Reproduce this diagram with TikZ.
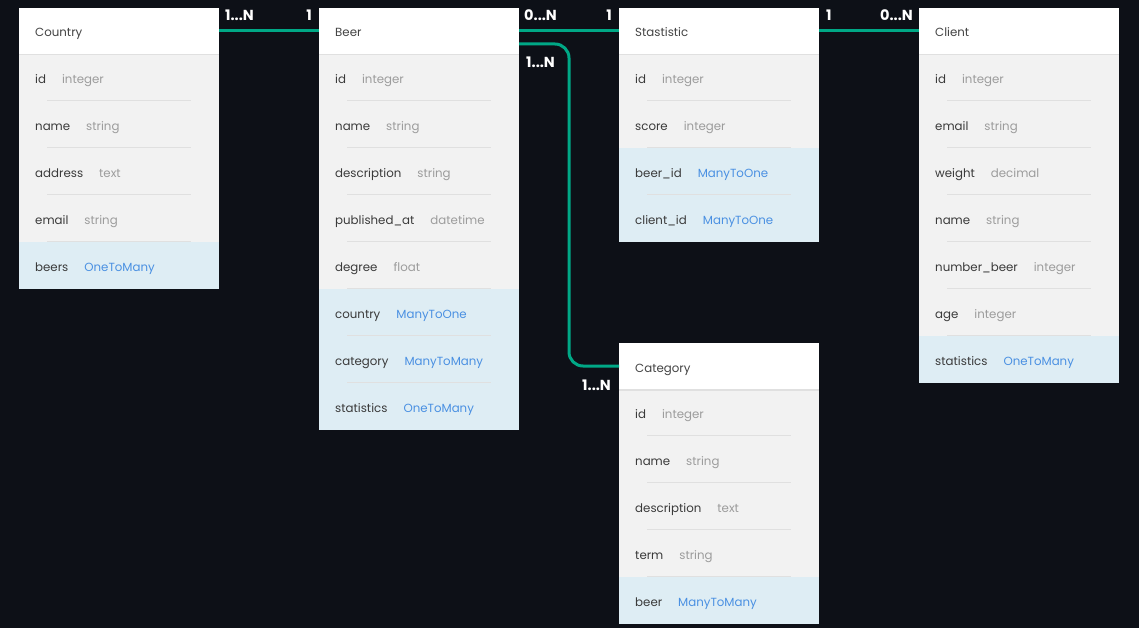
\documentclass[tikz,border=0pt]{standalone}
\usepackage{fontspec}
\setmainfont{Poppins}
\usetikzlibrary{calc}
\definecolor{bgcol}{HTML}{0D1017}
\definecolor{rowbg}{HTML}{F2F2F2}
\definecolor{hlbg}{HTML}{DEEDF4}
\definecolor{relcol}{HTML}{00A886}
\definecolor{fieldcol}{HTML}{3A3A3A}
\definecolor{hdrcol}{HTML}{444444}
\definecolor{typen}{HTML}{9C9C9C}
\definecolor{typel}{HTML}{4A90E2}
\definecolor{sepcol}{HTML}{E0E0E0}
\tikzset{
  hdr/.style={fill=white, minimum width=200pt, minimum height=46pt, inner sep=0pt, outer sep=0pt},
  rown/.style={fill=rowbg, minimum width=200pt, minimum height=47pt, inner sep=0pt, outer sep=0pt},
  rowl/.style={fill=hlbg, minimum width=200pt, minimum height=47pt, inner sep=0pt, outer sep=0pt},
  txt/.style={anchor=west, inner sep=0pt, text height=8pt, text depth=2pt, font=\fontsize{11.8}{14}\selectfont},
  sepline/.style={draw=sepcol, line width=1pt},
  hdrline/.style={draw=black!12, line width=1.5pt},
  card/.style={text=white, inner sep=0pt, font=\bfseries\fontsize{14.5}{16}\selectfont},
  rel/.style={draw=relcol, line width=3pt}
}
\newcommand\ertable[5]{%
  \node[hdr, anchor=north west] (#1) at (#2,#3) {};
  \node[txt, text=hdrcol] (#1-title) at ($(#1.west)+(16,3)$) {#4};
  \foreach \fn/\ty/\hl [count=\i] in {#5} {
    \pgfmathsetmacro\ry{#3+46+(\i-1)*47}
    \node[row\hl, anchor=north west] (#1-\i) at (#2,\ry) {};
    \node[txt, text=fieldcol] (#1-\i-t) at ($(#1-\i.west)+(16,3)$) {\fn\hspace{16pt}\textcolor{type\hl}{\ty}};
    \ifnum\i>1 \draw[sepline] (#2+28,\ry-0.5) -- (#2+172,\ry-0.5);\fi
  }
  \draw[hdrline] ($(#1.south west)+(0,0.75)$) -- ($(#1.south east)+(0,0.75)$);
}
\begin{document}
\begin{tikzpicture}[x=1pt,y=-1pt]
\fill[bgcol] (0,0) rectangle (1139,628);
\useasboundingbox (0,0) rectangle (1139,628);
\ertable{country}{19}{8}{Country}{id/integer/n, name/string/n, address/text/n, email/string/n, beers/OneToMany/l}
\ertable{beer}{319}{8}{Beer}{id/integer/n, name/string/n, description/string/n, published\_at/datetime/n, degree/float/n, country/ManyToOne/l, category/ManyToMany/l, statistics/OneToMany/l}
\ertable{stat}{619}{8}{Stastistic}{id/integer/n, score/integer/n, beer\_id/ManyToOne/l, client\_id/ManyToOne/l}
\ertable{client}{919}{8}{Client}{id/integer/n, email/string/n, weight/decimal/n, name/string/n, number\_beer/integer/n, age/integer/n, statistics/OneToMany/l}
\ertable{category}{619}{343}{Category}{id/integer/n, name/string/n, description/text/n, term/string/n, beer/ManyToMany/l}
% relations
\draw[rel] (country.east) -- (beer.west);
\draw[rel] (beer.east) -- (stat.west);
\draw[rel] (stat.east) -- (client.west);
\draw[rel, rounded corners=14pt] ($(beer.east)+(0,13)$) -- ++(50,0) |- (category.west);
% cardinalities
\node[card, anchor=west] (c1) at (225,15) {1...N};
\node[card, anchor=east] (c2) at (312,15) {1};
\node[card, anchor=west] (c3) at (524,15) {0...N};
\node[card, anchor=east] (c4) at (612,15) {1};
\node[card, anchor=west] (c5) at (826,15) {1};
\node[card, anchor=east] (c6) at (913,15) {0...N};
\node[card, anchor=west] (c7) at (526,62) {1...N};
\node[card, anchor=west] (c8) at (582,385) {1...N};
\end{tikzpicture}
\end{document}
